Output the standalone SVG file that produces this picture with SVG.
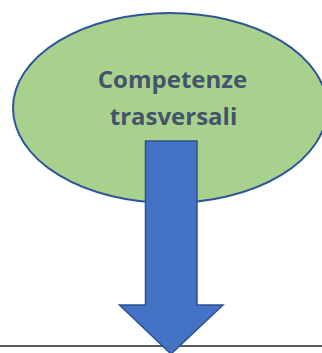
<svg xmlns="http://www.w3.org/2000/svg" width="322" height="353" viewBox="0 0 322 353">
<style>
.lbl{font-family:"Open Sans","Liberation Sans",sans-serif;font-weight:bold;font-size:24px;fill:#44546A;text-anchor:middle}
</style>
<rect width="322" height="353" fill="#ffffff"/>
<g id="baseline">
<line x1="0" y1="346" x2="322" y2="346" stroke="#595959" stroke-width="2"/>
</g>
<g id="node-competenze">
<ellipse cx="170" cy="108" rx="157" ry="95" fill="#A9D18E" stroke="#2F5597" stroke-width="2"/>
<text class="lbl" x="172.5" y="88">Competenze</text>
<text class="lbl" x="173.5" y="125">trasversali</text>
</g>
<g id="connectors">
<path d="M145.5,141 H197 V305 H223 L171,354 L119.5,305 H145.5 Z" fill="#4472C4" stroke="#2F528F" stroke-width="1.5" stroke-linejoin="miter"/>
</g>
</svg>
